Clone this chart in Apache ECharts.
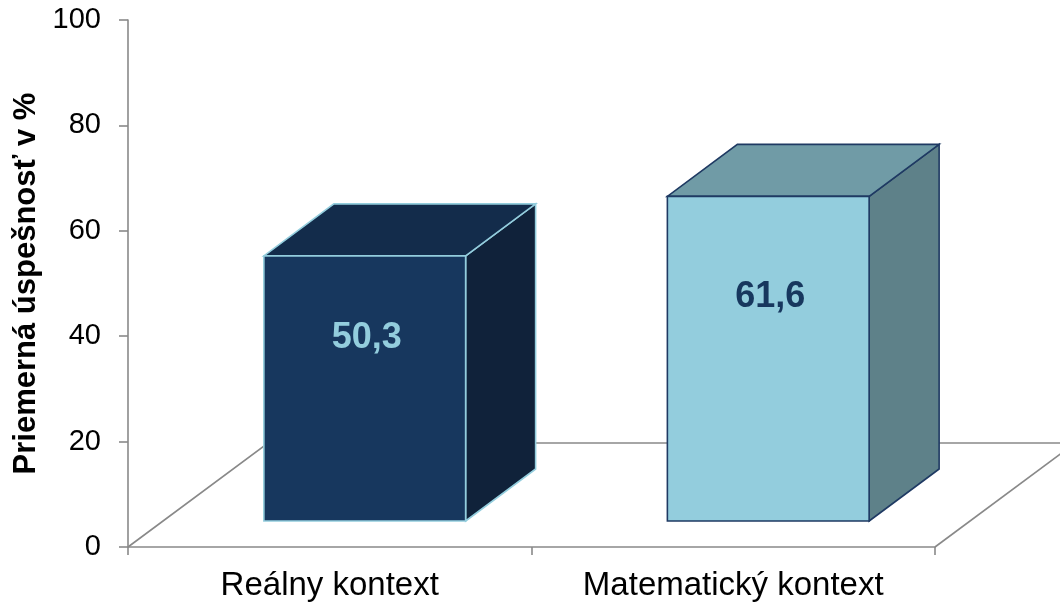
<!DOCTYPE html>
<html>
<head>
<meta charset="utf-8">
<script src="https://cdn.jsdelivr.net/npm/echarts@6/dist/echarts.min.js"></script>
<style>
  html, body { margin: 0; padding: 0; background: #fff; }
  #chart { width: 1060px; height: 605px; }
</style>
</head>
<body>
<div id="chart"></div>
<script>
// ---- data ----
const categories = ['Reálny kontext', 'Matematický kontext'];
const values = [50.3, 61.6];
const yAxisTitle = 'Priemerná úspešnosť v %';
const yMin = 0, yMax = 100, yInterval = 20;

// ---- styles (kept separate from data) ----
const barStyles = [
  { front: '#17375E', top: '#132C4B', side: '#10223A', border: '#93CDDD', label: '#93CDDD' },
  { front: '#93CDDD', top: '#709BA6', side: '#5E8189', border: '#1F3A63', label: '#17375E' }
];
const FONT = "'Liberation Sans', Arial, sans-serif";
const AXIS_COLOR = '#898989';
const DEPTH_X = 140, DEPTH_Y = 104; // floor depth projection in px

const chart = echarts.init(document.getElementById('chart'), null, { renderer: 'canvas' });

function renderFloor(params, api) {
  const first = api.coord([0, 0]);
  const last = api.coord([categories.length - 1, 0]);
  const bw = api.size([1, 0])[0];
  const xl = first[0] - bw / 2, xr = last[0] + bw / 2, y0 = first[1];
  const style = { stroke: AXIS_COLOR, lineWidth: 1.6, fill: null };
  return {
    type: 'group',
    children: [
      { type: 'polyline', shape: { points: [[xl, y0], [xl + DEPTH_X, y0 - DEPTH_Y], [xr + DEPTH_X, y0 - DEPTH_Y]] }, style: style },
      { type: 'line', shape: { x1: xr, y1: y0, x2: xr + DEPTH_X, y2: y0 - DEPTH_Y }, style: style }
    ]
  };
}

function renderBar(params, api) {
  const i = api.value(0);
  const v = api.value(1);
  const base = api.coord([i, 0]);
  const top = api.coord([i, v]);
  const bw = api.size([1, 0])[0];
  const w = bw * 0.5;
  const ox = DEPTH_X / 4, oy = DEPTH_Y / 4;
  const dx = DEPTH_X / 2, dy = DEPTH_Y / 2;
  const x1 = base[0] + ox - w / 2, x2 = x1 + w;
  const yb = base[1] - oy, yt = top[1] - oy;
  const s = barStyles[params.dataIndex];
  const lw = 1.6;
  return {
    type: 'group',
    children: [
      { type: 'polygon', shape: { points: [[x2, yb], [x2 + dx, yb - dy], [x2 + dx, yt - dy], [x2, yt]] },
        style: { fill: s.side, stroke: s.border, lineWidth: lw } },
      { type: 'polygon', shape: { points: [[x1, yt], [x2, yt], [x2 + dx, yt - dy], [x1 + dx, yt - dy]] },
        style: { fill: s.top, stroke: s.border, lineWidth: lw } },
      { type: 'rect', shape: { x: x1, y: yt, width: w, height: yb - yt },
        style: { fill: s.front, stroke: s.border, lineWidth: lw } },
      { type: 'text', x: x1 + w / 2 + 2, y: yb - 0.69 * (yb - yt),
        style: { text: String(v).replace('.', ','), fill: s.label, font: 'bold 36px ' + FONT,
                 align: 'center', verticalAlign: 'middle' } }
    ]
  };
}

chart.setOption({
  animation: false,
  backgroundColor: '#fff',
  grid: { left: 128, right: 125, top: 20, bottom: 58, containLabel: false },
  xAxis: {
    type: 'category',
    data: categories,
    boundaryGap: true,
    axisLine: { lineStyle: { color: AXIS_COLOR, width: 1.6 } },
    axisTick: { show: true, alignWithLabel: false, length: 8, lineStyle: { color: AXIS_COLOR, width: 1.6 } },
    axisLabel: { color: '#000', fontFamily: FONT, fontSize: 33, margin: 22 }
  },
  yAxis: {
    type: 'value',
    min: yMin, max: yMax, interval: yInterval,
    name: yAxisTitle,
    nameLocation: 'middle',
    nameGap: 83,
    nameTextStyle: { color: '#000', fontFamily: FONT, fontSize: 31, fontWeight: 'bold' },
    splitLine: { show: false },
    axisLine: { show: true, lineStyle: { color: AXIS_COLOR, width: 1.6 } },
    axisTick: { show: true, length: 9, lineStyle: { color: AXIS_COLOR, width: 1.6 } },
    axisLabel: { color: '#000', fontFamily: FONT, fontSize: 29, margin: 27 }
  },
  series: [
    { type: 'custom', name: 'floor', renderItem: renderFloor, data: [[0, 0]], z: 1, silent: true },
    { type: 'custom', name: 'bars', renderItem: renderBar, z: 2,
      data: values.map((v, i) => [i, v]) }
  ]
});
</script>
</body>
</html>
